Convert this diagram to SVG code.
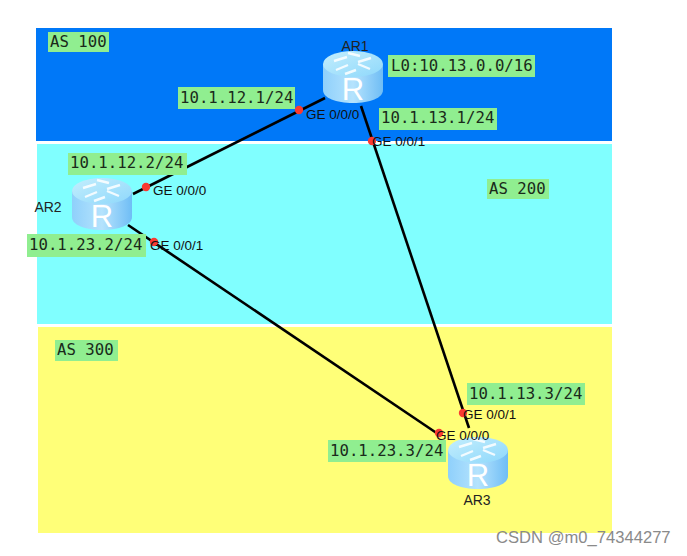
<svg xmlns="http://www.w3.org/2000/svg" width="687" height="556" viewBox="0 0 687 556">
<defs>
<linearGradient id="body" x1="0" x2="1" y1="0" y2="0"><stop offset="0" stop-color="#8fd0fb"/><stop offset=".5" stop-color="#b5e3fd"/><stop offset="1" stop-color="#6fbdf5"/></linearGradient>
<linearGradient id="top" x1="0" x2="1" y1="0" y2="1"><stop offset="0" stop-color="#c4eefd"/><stop offset="1" stop-color="#8ed8fb"/></linearGradient>
<g id="router">
<path d="M-30 -13V13C-30 21 -17 26 0 26S30 21 30 13V-13Z" fill="url(#body)"/>
<ellipse cx="0" cy="-13" rx="30" ry="13" fill="url(#top)"/>
<path d="M-19 -16L-6 -20M-17 -7L-5 -12M17 -8L5 -13M18 -19L5 -15M-5 -24L7 -21M-8 -3L3 -7" stroke="#fff" stroke-width="2.4" fill="none" opacity=".85"/>
<text x="0" y="23" text-anchor="middle" font-family="'Liberation Sans',sans-serif" font-size="31" fill="#fff">R</text>
</g>
</defs>
<style>
.ip{font:15.7px "DejaVu Sans Mono","Liberation Mono",monospace;fill:#1a2a1a}
.lb{fill:#90ee90}
.ge{font:13.5px "Liberation Sans",Arial,sans-serif;fill:#111}
.nm{font:14px "Liberation Sans",Arial,sans-serif;fill:#222}
.dot{fill:#f93a32}
.ln{stroke:#000;stroke-width:2.6;fill:none}
</style>
<rect width="687" height="556" fill="#fff"/>
<g id="zones">
<rect x="36" y="28" width="576" height="113" fill="#0078f8"/>
<rect x="37" y="144" width="575" height="180" fill="#80ffff"/>
<rect x="38" y="327" width="574" height="206" fill="#ffff78"/>
</g>
<g id="connectors">
<path class="ln" d="M325 98L133 194"/>
<path class="ln" d="M361 106L469 428"/>
<path class="ln" d="M128 225L441 436"/>
</g>
<g id="AR1"><use href="#router" x="353" y="77"/><text class="nm" x="355" y="51" text-anchor="middle">AR1</text></g>
<g id="AR2"><use href="#router" x="102" y="204"/><text class="nm" x="48" y="212" text-anchor="middle">AR2</text></g>
<g id="AR3"><use href="#router" x="478" y="463"/><text class="nm" x="477" y="505" text-anchor="middle">AR3</text></g>
<g id="ports">
<circle class="dot" cx="299" cy="110" r="4.2"/><text class="ge" x="306" y="119">GE 0/0/0</text>
<circle class="dot" cx="372" cy="141" r="4.2"/><text class="ge" x="372" y="146">GE 0/0/1</text>
<circle class="dot" cx="146" cy="187" r="4.2"/><text class="ge" x="153" y="195">GE 0/0/0</text>
<circle class="dot" cx="154" cy="242" r="4.2"/><text class="ge" x="150" y="250">GE 0/0/1</text>
<circle class="dot" cx="463" cy="413" r="4.2"/><text class="ge" x="463" y="419">GE 0/0/1</text>
<circle class="dot" cx="439" cy="433" r="4.2"/><text class="ge" x="436" y="440">GE 0/0/0</text>
</g>
<g id="labels">
<rect class="lb" x="48" y="32" width="61" height="20"/><text class="ip" x="50" y="47">AS 100</text>
<rect class="lb" x="487" y="179" width="62" height="20"/><text class="ip" x="489" y="194">AS 200</text>
<rect class="lb" x="55" y="340" width="63" height="21"/><text class="ip" x="57" y="355">AS 300</text>
<rect class="lb" x="388" y="55" width="147" height="22"/><text class="ip" x="391" y="71">L0:10.13.0.0/16</text>
<rect class="lb" x="178" y="87" width="117" height="22"/><text class="ip" x="180" y="103">10.1.12.1/24</text>
<rect class="lb" x="379" y="108" width="118" height="22"/><text class="ip" x="381" y="123">10.1.13.1/24</text>
<rect class="lb" x="68" y="153" width="119" height="22"/><text class="ip" x="70" y="168">10.1.12.2/24</text>
<rect class="lb" x="27" y="234" width="119" height="23"/><text class="ip" x="29" y="250">10.1.23.2/24</text>
<rect class="lb" x="467" y="383" width="118" height="22"/><text class="ip" x="469" y="399">10.1.13.3/24</text>
<rect class="lb" x="328" y="440" width="118" height="22"/><text class="ip" x="330" y="456">10.1.23.3/24</text>
</g>
<text x="496" y="543" font-family="'Liberation Sans',sans-serif" font-size="16.6" fill="#8a8a8a">CSDN @m0_74344277</text>
</svg>
